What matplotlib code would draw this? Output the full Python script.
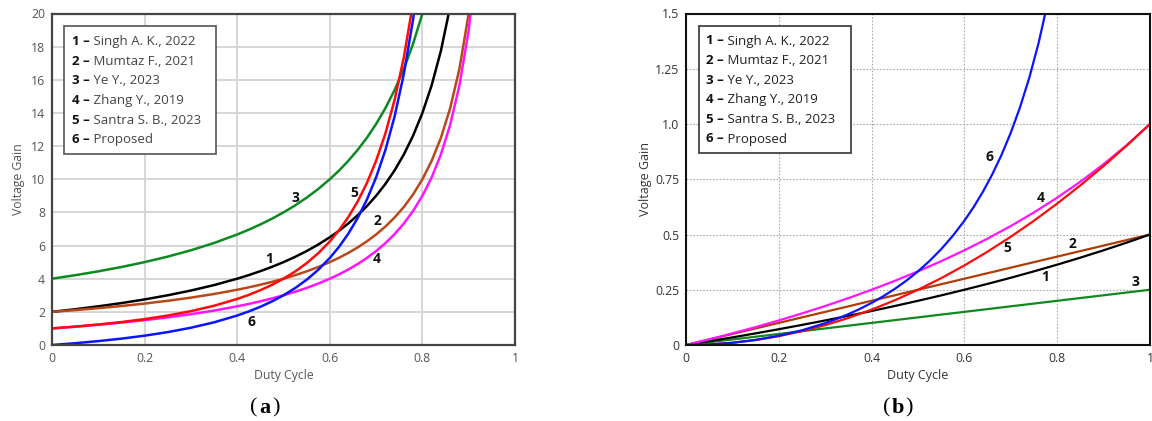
import matplotlib
matplotlib.use("Agg")
import matplotlib.pyplot as plt
from matplotlib.patches import Rectangle

# ---------------- data ----------------
legend_names = ["Singh A. K., 2022", "Mumtaz F., 2021", "Ye Y., 2023",
                "Zhang Y., 2019", "Santra S. B., 2023", "Proposed"]

# panel (a)
duty_a = [0, 0.05, 0.1, 0.15, 0.2, 0.25, 0.3, 0.35, 0.4, 0.425, 0.45, 0.475, 0.5, 0.525,
          0.55, 0.575, 0.6, 0.62, 0.64, 0.66, 0.68, 0.7, 0.72, 0.74, 0.76, 0.78, 0.8,
          0.82, 0.84, 0.86, 0.88, 0.9, 0.92]
gain_a1 = [2.0, 2.158, 2.333, 2.529, 2.75, 3.0, 3.286, 3.615, 4.0, 4.217, 4.455, 4.714, 5.0,
           5.316, 5.667, 6.059, 6.5, 6.895, 7.333, 7.824, 8.375, 9.0, 9.714, 10.538, 11.5,
           12.636, 14.0, 15.667, 17.75, 20.429, 24.0, 29.0, 36.5]
gain_a2 = [2.0, 2.105, 2.222, 2.353, 2.5, 2.667, 2.857, 3.077, 3.333, 3.478, 3.636, 3.810,
           4.0, 4.211, 4.444, 4.706, 5.0, 5.263, 5.556, 5.882, 6.25, 6.667, 7.143, 7.692,
           8.333, 9.091, 10.0, 11.111, 12.5, 14.286, 16.667, 20.0, 25.0]
gain_a3 = [4.0, 4.211, 4.444, 4.706, 5.0, 5.333, 5.714, 6.154, 6.667, 6.957, 7.273, 7.619,
           8.0, 8.421, 8.889, 9.412, 10.0, 10.526, 11.111, 11.765, 12.5, 13.333, 14.286,
           15.385, 16.667, 18.182, 20.0, 22.222, 25.0, 28.571, 33.333, 40.0, 50.0]
gain_a4 = [1.0, 1.105, 1.222, 1.353, 1.5, 1.667, 1.857, 2.077, 2.333, 2.478, 2.636, 2.810,
           3.0, 3.211, 3.444, 3.706, 4.0, 4.263, 4.556, 4.882, 5.25, 5.667, 6.143, 6.692,
           7.333, 8.091, 9.0, 10.111, 11.5, 13.286, 15.667, 19.0, 24.0]
gain_a5 = [1.0, 1.108, 1.235, 1.384, 1.5625, 1.778, 2.041, 2.367, 2.778, 3.025, 3.306, 3.628,
           4.0, 4.432, 4.938, 5.536, 6.25, 6.925, 7.716, 8.651, 9.766, 11.111, 12.755,
           14.793, 17.361, 20.661, 25.0, 30.864, 39.063, 51.02, 69.444, 100.0, 156.25]
gain_a6 = [0.0, 0.108, 0.235, 0.384, 0.5625, 0.778, 1.041, 1.367, 1.778, 2.025, 2.306, 2.628,
           3.0, 3.432, 3.938, 4.536, 5.25, 5.925, 6.716, 7.651, 8.766, 10.111, 11.755,
           13.793, 16.361, 19.661, 24.0, 29.864, 38.063, 50.02, 68.444, 99.0, 155.25]

# panel (b)
duty_b = [0, 0.05, 0.1, 0.15, 0.2, 0.25, 0.3, 0.35, 0.4, 0.45, 0.5, 0.55, 0.6, 0.65,
          0.7, 0.75, 0.8, 0.85, 0.9, 0.95, 1.0]
gain_b1 = [0, 0.01695, 0.03448, 0.05263, 0.07143, 0.09091, 0.1111, 0.1321, 0.1538, 0.1765,
           0.2, 0.2245, 0.25, 0.2766, 0.3043, 0.3333, 0.3636, 0.3953, 0.4286, 0.4634, 0.5]
gain_b2 = [0, 0.025, 0.05, 0.075, 0.1, 0.125, 0.15, 0.175, 0.2, 0.225, 0.25, 0.275, 0.3,
           0.325, 0.35, 0.375, 0.4, 0.425, 0.45, 0.475, 0.5]
gain_b3 = [0, 0.0125, 0.025, 0.0375, 0.05, 0.0625, 0.075, 0.0875, 0.1, 0.1125, 0.125,
           0.1375, 0.15, 0.1625, 0.175, 0.1875, 0.2, 0.2125, 0.225, 0.2375, 0.25]
gain_b4 = [0, 0.02564, 0.05263, 0.08108, 0.1111, 0.1429, 0.1765, 0.2121, 0.25, 0.2903,
           0.3333, 0.3793, 0.4286, 0.4815, 0.5385, 0.6, 0.6667, 0.7391, 0.8182, 0.9048, 1.0]
gain_b5 = [0, 0.0025, 0.01, 0.0225, 0.04, 0.0625, 0.09, 0.1225, 0.16, 0.2025, 0.25, 0.3025,
           0.36, 0.4225, 0.49, 0.5625, 0.64, 0.7225, 0.81, 0.9025, 1.0]
duty_b6 = [0, 0.05, 0.1, 0.15, 0.2, 0.25, 0.3, 0.325, 0.35, 0.375, 0.4, 0.425, 0.45, 0.475,
           0.5, 0.525, 0.55, 0.575, 0.6, 0.62, 0.64, 0.66, 0.68, 0.7, 0.72, 0.74, 0.76,
           0.78, 0.8]
gain_b6 = [0, 0.002506, 0.0101, 0.02302, 0.04167, 0.06667, 0.0989, 0.1181, 0.1396, 0.1636,
           0.1905, 0.2204, 0.2539, 0.2914, 0.3333, 0.3805, 0.4337, 0.4939, 0.5625, 0.6244,
           0.6938, 0.7718, 0.8601, 0.9608, 1.0764, 1.2104, 1.3674, 1.5536, 1.7778]

x_ticks = [0, 0.2, 0.4, 0.6, 0.8, 1]
x_ticklabels = ["0", "0.2", "0.4", "0.6", "0.8", "1"]
ya_ticks = list(range(0, 21, 2))
yb_ticks = [0, 0.25, 0.5, 0.75, 1.0, 1.25, 1.5]
yb_ticklabels = ["0", "0.25", "0.5", "0.75", "1.0", "1.25", "1.5"]

# curve number labels (duty, gain)
labels_a = {"3": (0.525, 8.86), "5": (0.652, 9.2), "2": (0.704, 7.47),
            "1": (0.469, 5.18), "4": (0.702, 5.18), "6": (0.43, 1.39)}
labels_b = {"6": (0.654, 0.852), "4": (0.765, 0.665), "2": (0.833, 0.457),
            "5": (0.692, 0.44), "1": (0.773, 0.307), "3": (0.969, 0.286)}

# ---------------- figure ----------------
W, H = 1152, 421
fig = plt.figure(figsize=(W / 100, H / 100), dpi=100)

a_left, a_right, top_px, bot_px = 52, 515, 13.5, 345
b_left, b_right = 686, 1150

ax1 = fig.add_axes([a_left / W, (H - bot_px) / H, (a_right - a_left) / W, (bot_px - top_px) / H])
ax2 = fig.add_axes([b_left / W, (H - bot_px) / H, (b_right - b_left) / W, (bot_px - top_px) / H])

font_a = "Open Sans"
font_b = "Open Sans"

col_green = "#0b8a22"
col_brown = "#b8481a"
col_mag = "#ff14ff"
col_red = "#ff0a0a"
col_blue = "#0a14ff"
col_black = "#000000"

lw = 1.8
# panel (a) curves
ax1.plot(duty_a, gain_a3, color=col_green, lw=lw)
ax1.plot(duty_a, gain_a1, color=col_black, lw=lw)
ax1.plot(duty_a, gain_a2, color=col_brown, lw=lw)
ax1.plot(duty_a, gain_a4, color=col_mag, lw=lw)
ax1.plot(duty_a, gain_a5, color=col_red, lw=lw)
ax1.plot(duty_a, gain_a6, color=col_blue, lw=lw)
ax1.set_xlim(0, 1)
ax1.set_ylim(0, 20)
ax1.set_xticks(x_ticks)
ax1.set_xticklabels(x_ticklabels)
ax1.set_yticks(ya_ticks)
ax1.grid(True, color="#d6d6d6", lw=1.4, ls="-")
ax1.set_axisbelow(True)
ax1.tick_params(length=0, labelsize=8.8, labelcolor="#555555", pad=5)
for lab in ax1.get_xticklabels() + ax1.get_yticklabels():
    lab.set_family(font_a)
for s in ax1.spines.values():
    s.set_color("#444444")
    s.set_linewidth(1.6)
ax1.set_xlabel("Duty Cycle", family=font_a, fontsize=8.8, color="#555555", labelpad=3)
ax1.set_ylabel("Voltage Gain", family=font_a, fontsize=8.8, color="#555555", labelpad=4)
for k, (dx, gy) in labels_a.items():
    ax1.text(dx, gy, k, family=font_a, fontweight="bold", fontsize=10, color="#111111",
             ha="center", va="center")

# panel (b) curves
lwb = 1.6
ax2.plot(duty_b, gain_b3, color="#0f8a1c", lw=lwb)
ax2.plot(duty_b, gain_b2, color="#b03c06", lw=lwb)
ax2.plot(duty_b, gain_b1, color=col_black, lw=lwb)
ax2.plot(duty_b, gain_b4, color=col_mag, lw=lwb)
ax2.plot(duty_b, gain_b5, color=col_red, lw=lwb)
ax2.plot(duty_b6, gain_b6, color=col_blue, lw=lwb)
ax2.set_xlim(0, 1)
ax2.set_ylim(0, 1.5)
ax2.set_xticks(x_ticks)
ax2.set_xticklabels(x_ticklabels)
ax2.set_yticks(yb_ticks)
ax2.set_yticklabels(yb_ticklabels)
ax2.grid(True, color="#aaaaaa", lw=0.8, ls=(0, (1.5, 1.5)))
ax2.set_axisbelow(True)
ax2.tick_params(length=0, labelsize=8.8, labelcolor="#333333", pad=5)
for lab in ax2.get_xticklabels() + ax2.get_yticklabels():
    lab.set_family(font_b)
for s in ax2.spines.values():
    s.set_color("#111111")
    s.set_linewidth(1.5)
ax2.set_xlabel("Duty Cycle", family=font_b, fontsize=9, color="#333333", labelpad=3)
ax2.set_ylabel("Voltage Gain", family=font_b, fontsize=9, color="#333333", labelpad=2)
for k, (dx, gy) in labels_b.items():
    ax2.text(dx, gy, k, family=font_b, fontweight="bold", fontsize=10, color="#111111",
             ha="center", va="center")


# ---------------- legends (manual boxes) ----------------
def draw_legend(ax, left_px, right_px, box, text_x, row0, dy, family, color, edge):
    bx0, by0, bx1, by1 = box

    def fx(px):
        return (px - left_px) / (right_px - left_px)

    def fy(py):
        return (bot_px - py) / (bot_px - top_px)

    ax.add_patch(Rectangle((fx(bx0), fy(by1)), fx(bx1) - fx(bx0), fy(by0) - fy(by1),
                           transform=ax.transAxes, facecolor="white", edgecolor=edge,
                           lw=1.2, zorder=5))
    for i, name in enumerate(legend_names):
        y = fy(row0 + i * dy)
        t = ax.text(fx(text_x), y, f"{i + 1} \u2013", transform=ax.transAxes,
                    family=family, fontweight="bold", fontsize=9.5, color="#111111",
                    ha="left", va="center", zorder=6)
        ax.annotate(" " + name, xy=(1, 0.5), xycoords=t, family=family, fontsize=9.5,
                    color=color, ha="left", va="center", zorder=6)


draw_legend(ax1, a_left, a_right, (64, 26, 216, 154), 72, 41.7, 19.6, font_a, "#444444", "#555555")
draw_legend(ax2, b_left, b_right, (699, 26, 851, 153), 706, 41.0, 19.6, font_b, "#222222", "#333333")

# ---------------- captions ----------------
for cx, letter in ((265, "a"), (898, "b")):
    fig.text(cx / W - 0.0095, (H - 408) / H, "(", family="Liberation Serif", fontsize=16,
             ha="center", va="center")
    fig.text(cx / W, (H - 408) / H, letter, family="Liberation Serif", fontsize=16,
             fontweight="bold", ha="center", va="center")
    fig.text(cx / W + 0.0095, (H - 408) / H, ")", family="Liberation Serif", fontsize=16,
             ha="center", va="center")

fig.savefig("out.png", dpi=100)
